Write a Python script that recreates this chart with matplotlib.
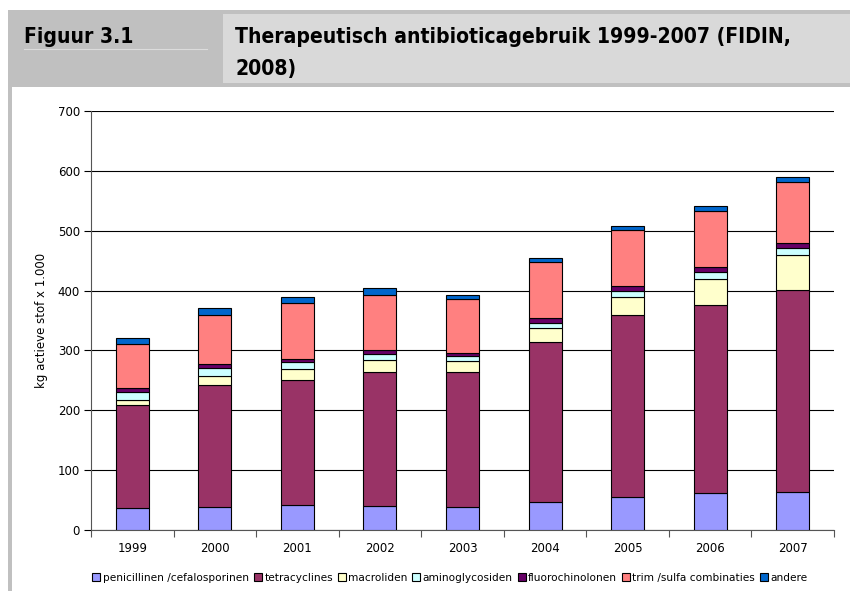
import matplotlib
matplotlib.use('Agg')
import numpy as np
import matplotlib.pyplot as plt
from matplotlib import font_manager
from matplotlib.patches import Rectangle

# Data (kg actieve stof x 1.000)
jaren = ['1999', '2000', '2001', '2002', '2003', '2004', '2005', '2006', '2007']
penicillinen = [37, 39, 41, 40, 38, 46, 55, 61, 64]
tetracyclines = [171, 203, 210, 224, 226, 268, 305, 315, 337]
macroliden = [10, 16, 18, 20, 18, 23, 30, 44, 58]
aminoglycosiden = [13, 12, 11, 10, 8, 9, 10, 11, 12]
fluorochinolonen = [7, 7, 6, 6, 6, 8, 8, 8, 9]
trim_sulfa = [72, 82, 93, 93, 90, 93, 93, 94, 101]
andere = [11, 12, 11, 11, 7, 7, 7, 9, 8]

reeksen = [
    ('penicillinen /cefalosporinen', penicillinen, '#9999FF'),
    ('tetracyclines', tetracyclines, '#993366'),
    ('macroliden', macroliden, '#FFFFCC'),
    ('aminoglycosiden', aminoglycosiden, '#CCFFFF'),
    ('fluorochinolonen', fluorochinolonen, '#660066'),
    ('trim /sulfa combinaties', trim_sulfa, '#FF8080'),
    ('andere', andere, '#0066CC'),
]

W, H = 850, 591
fig = plt.figure(figsize=(W / 100, H / 100), dpi=100)


def fx(x):
    return x / W


def fy(y):
    return 1 - y / H


def rect(x0, y0, x1, y1, kleur):
    fig.patches.append(Rectangle((fx(x0), fy(y1)), fx(x1) - fx(x0), fy(y0) - fy(y1),
                                 transform=fig.transFigure, facecolor=kleur,
                                 edgecolor='none', zorder=0))


# smalle vette letter voor de kop, als die er is
kop_props = dict(family='DejaVu Sans', weight='bold')
for fam, rek in [('Liberation Sans Narrow', 'normal'), ('DejaVu Sans', 'condensed')]:
    fp = font_manager.FontProperties(family=fam, weight='bold', stretch=rek)
    try:
        pad = font_manager.findfont(fp, fallback_to_default=False)
    except Exception:
        pad = ''
    if 'Narrow' in pad or 'Condensed' in pad:
        kop_props = dict(fname=pad)
        break

# kop
rect(8, 10, 850, 87, '#c0c0c0')
rect(223, 14, 850, 83, '#d9d9d9')
rect(8, 10, 12, H, '#c0c0c0')
fig.add_artist(plt.Line2D([fx(24), fx(207)], [fy(49), fy(49)], transform=fig.transFigure,
                          color='#dcdcdc', lw=0.8))

kop1 = fig.text(fx(24), fy(43), 'Figuur 3.1', va='baseline', ha='left',
                fontproperties=font_manager.FontProperties(**kop_props))
kop2 = fig.text(fx(235), fy(43), 'Therapeutisch antibioticagebruik 1999-2007 (FIDIN,',
                va='baseline', ha='left', fontproperties=font_manager.FontProperties(**kop_props))
kop3 = fig.text(fx(235), fy(75), '2008)', va='baseline', ha='left',
                fontproperties=font_manager.FontProperties(**kop_props))

# lettergrootte zo kiezen dat de titelregel ~555 px breed is
renderer = fig.canvas.get_renderer()
kop2.set_fontsize(16)
breedte = kop2.get_window_extent(renderer).width
grootte = min(16, 16 * 555 / breedte)
for t in (kop1, kop2, kop3):
    t.set_fontsize(grootte)

# grafiek
ax = fig.add_axes([fx(91), fy(530), fx(834) - fx(91), fy(111) - fy(530)])
x = np.arange(len(jaren))
onder = np.zeros(len(jaren))
for naam, waarden, kleur in reeksen:
    ax.bar(x, waarden, width=0.4, bottom=onder, color=kleur, edgecolor='black',
           linewidth=0.8, label=naam, zorder=3)
    onder += np.array(waarden)

ax.set_xlim(-0.5, len(jaren) - 0.5)
ax.set_ylim(0, 700)
ax.set_yticks(range(0, 701, 100))
ax.set_xticks(x)
ax.set_xticklabels(jaren)
ax.set_xticks(np.arange(-0.5, len(jaren)), minor=True)
ax.tick_params(axis='x', which='major', length=0, pad=9, labelsize=8.5)
ax.tick_params(axis='x', which='minor', length=5, width=0.8, direction='out', color='#555555')
ax.tick_params(axis='y', length=5, width=0.8, direction='out', labelsize=8.5, pad=3)
ax.yaxis.grid(True, color='black', linewidth=0.8, zorder=0)
ax.set_axisbelow(True)
for s in ['top', 'right']:
    ax.spines[s].set_visible(False)
ax.spines['left'].set_color('#555555')
ax.spines['bottom'].set_color('#555555')
ax.set_ylabel('kg actieve stof x 1.000', fontsize=8.5, labelpad=7)

fig.legend(loc='center', bbox_to_anchor=(fx(450), fy(578)), ncol=7, frameon=False,
           fontsize=7.6, handlelength=0.75, handleheight=0.75, handletextpad=0.25,
           columnspacing=0.45, borderaxespad=0)

fig.savefig('out.png', dpi=100)
